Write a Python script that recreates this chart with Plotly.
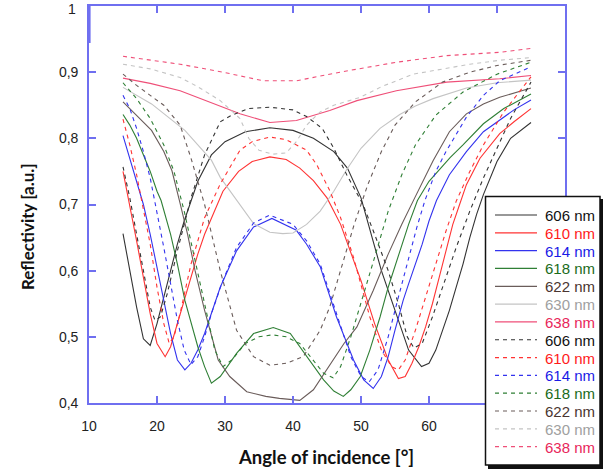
import plotly.graph_objects as go

# ---------------- data ----------------
wavelength_labels = ["606 nm", "610 nm", "614 nm", "618 nm", "622 nm", "630 nm", "638 nm"]

s606_x = [15,16,17,18,19,20,21,22,23,24,25,26,28,30,33,36.6,40,43,46,48,50,51.5,53,55,57,58.9,60,61,62,63,64,65,66,67,68,70,72,75]
s606_y = [.656,.60,.545,.497,.487,.52,.56,.60,.64,.675,.705,.735,.775,.795,.81,.816,.812,.80,.78,.755,.71,.655,.60,.54,.48,.455,.46,.48,.51,.54,.575,.61,.65,.685,.715,.765,.80,.824]

s610_x = [15,16,17,18,19,20,21.2,22,23,24,25,26,27,28,29.7,32,34,36.6,39,41,43,45,47,48.9,50,52,54,55.5,56.5,57.5,58.5,59.5,60.5,61.5,62.5,63.5,64.5,65.5,67.5,70.4,72.5,75]
s610_y = [.75,.70,.645,.59,.535,.49,.47,.485,.52,.555,.59,.625,.655,.68,.72,.75,.765,.772,.768,.755,.736,.71,.67,.616,.585,.52,.465,.437,.44,.46,.485,.515,.55,.59,.63,.67,.70,.73,.77,.807,.825,.845]

s614_x = [15,16,17,18,19,20,21,22,23,24.1,25,26,27,28,29.3,31.7,34.2,36.9,40.5,42,44,46.4,48.9,50.4,51.8,53,54,55,56.2,57,58,59,60,61.1,63,65.5,68,70.4,72.5,75]
s614_y = [.804,.77,.735,.70,.655,.605,.555,.505,.465,.45,.46,.48,.505,.535,.575,.63,.666,.679,.661,.64,.606,.53,.465,.435,.422,.44,.47,.51,.555,.58,.61,.64,.675,.706,.745,.78,.81,.827,.843,.858]

s618_x = [15,16,17,18,19,20,20.6,22,23,24.1,25,26,27,28,29.3,31.7,34.2,37.1,39.6,42,44.5,46,47.4,48.5,49.9,51.3,52.8,54,55.7,57,58.3,60,63.1,65,68,71,75]
s618_y = [.836,.82,.80,.775,.75,.72,.706,.655,.61,.555,.52,.485,.455,.43,.44,.475,.505,.514,.505,.47,.435,.418,.41,.42,.44,.48,.53,.575,.63,.67,.706,.735,.771,.79,.822,.845,.867]

s622_x = [15,17,19.2,21,22.2,23.3,24.5,25.6,27,29,30.7,33.2,36,38,40,41,43,45.9,47.5,49.4,51.8,54,56,57.9,60.6,63,65.5,68,70.4,75]
s622_y = [.855,.835,.812,.78,.751,.706,.655,.60,.54,.465,.44,.417,.41,.407,.405,.404,.42,.465,.49,.515,.57,.625,.67,.71,.766,.81,.837,.852,.862,.876]

s630_x = [15,19.2,24.1,28,29.3,31.7,34.2,36.6,38.5,40,42,44,46,47.9,50,52.8,55.7,58,60.6,65.5,70,75]
s630_y = [.877,.852,.812,.767,.741,.706,.671,.658,.656,.657,.67,.69,.72,.753,.785,.815,.836,.849,.86,.876,.884,.888]

s638_x = [15,19,23.4,28.3,32.2,36.6,40.5,45.4,49.4,55.2,62.6,70.4,75]
s638_y = [.891,.883,.872,.852,.837,.824,.827,.842,.857,.872,.885,.890,.895]

d606_x = [15,16,17,18,19,19.7,20.5,21.5,23,25,27,29.3,31,33.5,36.6,40,42,44.3,46,47.9,50.3,52,54,55.5,56.8,57.8,59,60.5,62,64,66,68,70,72,75]
d606_y = [.757,.71,.655,.60,.545,.525,.53,.565,.63,.71,.775,.825,.835,.845,.847,.843,.833,.815,.785,.745,.70,.655,.60,.55,.50,.483,.49,.53,.575,.635,.69,.74,.785,.83,.885]

d610_x = [15,16,17,18,19,20,21,21.8,22.5,23.5,25,27,29.3,32.2,34,36.6,39,42,43.5,45.4,47,48.9,51.3,53,54.5,55.5,56.5,58,59.5,61,62.5,64,66,68,71,75]
d610_y = [.829,.79,.745,.695,.64,.575,.52,.49,.50,.54,.61,.68,.731,.782,.795,.802,.798,.782,.76,.721,.68,.62,.53,.48,.455,.45,.465,.51,.56,.61,.66,.705,.75,.79,.84,.893]

d614_x = [15,16,17,18,19,20,21,22,23,24,25,26,27,28,29.5,31.7,34.2,36.6,40,42,44,46.4,48.5,50,51.2,52.5,54,55.5,57,58.2,59.4,61,62.5,65.5,68,70.4,75]
d614_y = [.865,.845,.815,.78,.74,.69,.635,.58,.525,.48,.458,.47,.50,.535,.58,.635,.672,.684,.67,.645,.61,.535,.47,.44,.432,.45,.50,.56,.62,.665,.706,.75,.78,.832,.865,.887,.908]

d618_x = [15,17,19,21,22.5,24,25.5,27,28.5,29.7,31,33,35,37,39,41,43,44.5,45.9,47,48.5,50,52,54,56,58,61,65,70,75]
d618_y = [.884,.86,.83,.79,.75,.69,.62,.55,.48,.455,.465,.49,.50,.503,.50,.49,.465,.445,.438,.455,.50,.55,.62,.69,.745,.79,.835,.87,.897,.915]

d622_x = [15,17,19,21,23.4,25,27,29.3,31.7,34.2,36.6,39,41.5,44,45.4,47,49,51,53,55,58,62,66,70,75]
d622_y = [.897,.88,.865,.85,.82,.77,.70,.60,.51,.47,.457,.46,.47,.51,.545,.60,.67,.73,.78,.82,.855,.885,.90,.91,.918]

d630_x = [15,19,23.4,26,29.3,32.2,33.5,35,37,39,40.5,42,44,46,49.9,53,57.7,62,66,70.4,75]
d630_y = [.912,.905,.892,.878,.857,.83,.80,.782,.776,.778,.795,.82,.84,.85,.862,.878,.897,.905,.912,.918,.922]

d638_x = [15,23.4,29.7,35.6,40.5,46.9,55.2,62.6,70.4,75]
d638_y = [.924,.912,.90,.887,.887,.90,.915,.925,.930,.936]

x_ticks = [10, 20, 30, 40, 50, 60, 70, 80]
x_tick_text = ["10", "20", "30", "40", "50", "60", "", ""]   # 70 and 80 sit under the legend box
y_ticks = [0.4, 0.5, 0.6, 0.7, 0.8, 0.9, 1.0]
y_tick_text = ["0,4", "0,5", "0,6", "0,7", "0,8", "0,9", ""]  # "1" is drawn as a label annotation
top_label = "1"

# ---------------- style ----------------
line_colors = ["#333333", "#ff3333", "#3333ee", "#2f7f35", "#6a5c5a", "#c4c4c4", "#ef4f78"]
text_colors = ["#111111", "#ff1a1a", "#1a1ae6", "#1a6b1a", "#4a3530", "#a0a0a0", "#e8265a"]
AXIS_BLUE = "#6f6ff0"
DASH = "4px,4px"

solid = [(s606_x, s606_y), (s610_x, s610_y), (s614_x, s614_y), (s618_x, s618_y),
         (s622_x, s622_y), (s630_x, s630_y), (s638_x, s638_y)]
dashed = [(d606_x, d606_y), (d610_x, d610_y), (d614_x, d614_y), (d618_x, d618_y),
          (d622_x, d622_y), (d630_x, d630_y), (d638_x, d638_y)]

fig = go.Figure()
for i, (xs, ys) in enumerate(solid):
    fig.add_trace(go.Scatter(x=xs, y=ys, mode="lines", name=wavelength_labels[i],
                             line=dict(color=line_colors[i], width=1.1), showlegend=False))
for i, (xs, ys) in enumerate(dashed):
    fig.add_trace(go.Scatter(x=xs, y=ys, mode="lines", name=wavelength_labels[i],
                             line=dict(color=line_colors[i], width=1.1, dash=DASH), showlegend=False))

W, H = 603, 472
ML, MR, MT, MB = 89, 38, 6, 69
PW, PH = W - ML - MR, H - MT - MB

def px(xp):
    return (xp - ML) / PW

def py(yp):
    return (H - MB - yp) / PH

shapes = []
annotations = []

# thicker upper part of the left frame, as in the original
shapes.append(dict(type="line", xref="paper", yref="paper", x0=px(89), x1=px(89), y0=py(43), y1=1,
                   line=dict(color=AXIS_BLUE, width=3.2), layer="above"))

# legend box with shadow
shapes.append(dict(type="rect", xref="paper", yref="paper", x0=px(488), x1=px(604), y0=py(469), y1=py(199),
                   fillcolor="#111111", line=dict(width=0), layer="above"))
shapes.append(dict(type="rect", xref="paper", yref="paper", x0=px(485.5), x1=px(600), y0=py(465), y1=py(196.5),
                   fillcolor="white", line=dict(color="#111111", width=1.5), layer="above"))

legend_entries = [(i, None) for i in range(7)] + [(i, DASH) for i in range(7)]
for k, (i, dash) in enumerate(legend_entries):
    yc = 215 + k * 17.82
    ln = dict(color=line_colors[i], width=1.2)
    if dash:
        ln["dash"] = dash
    shapes.append(dict(type="line", xref="paper", yref="paper", x0=px(495), x1=px(537), y0=py(yc), y1=py(yc),
                       line=ln, layer="above"))
    annotations.append(dict(xref="paper", yref="paper", x=px(544), y=py(yc), xanchor="left", yanchor="middle",
                            text=wavelength_labels[i], showarrow=False, height=16, borderpad=0,
                            font=dict(family="Liberation Sans, Arial", size=15, color=text_colors[i])))

annotations.append(dict(xref="paper", yref="paper", x=px(77), y=1.0 + MT / PH, xanchor="right", yanchor="top",
                        text=top_label, showarrow=False, borderpad=0,
                        font=dict(family="Liberation Sans, Arial", size=14, color="#222222")))
annotations.append(dict(xref="paper", yref="paper", x=px(326), y=py(457), xanchor="center", yanchor="middle",
                        text="<b>Angle of incidence [°]</b>", showarrow=False,
                        font=dict(family="Lato, Liberation Sans", size=18.5, color="#111111")))
annotations.append(dict(xref="paper", yref="paper", x=px(27), y=py(226), xanchor="center", yanchor="middle",
                        text="<b>Reflectivity [a.u.]</b>", showarrow=False, textangle=-90,
                        font=dict(family="Lato, Liberation Sans", size=17, color="#111111")))

axis_common = dict(showline=True, linecolor=AXIS_BLUE, linewidth=1.6, mirror="ticks",
                   ticks="inside", ticklen=7, tickwidth=1.6, tickcolor=AXIS_BLUE,
                   showgrid=False, zeroline=False, ticklabeloverflow="allow",
                   tickfont=dict(family="Liberation Sans, Arial", size=14, color="#222222"))

fig.update_layout(
    width=W, height=H,
    margin=dict(l=ML, r=MR, t=MT, b=MB, autoexpand=False),
    paper_bgcolor="white", plot_bgcolor="white",
    showlegend=False,
    xaxis=dict(range=[10, 80], tickvals=x_ticks, ticktext=x_tick_text, ticklabelstandoff=9, **axis_common),
    yaxis=dict(range=[0.4, 1.0], tickvals=y_ticks, ticktext=y_tick_text, ticklabelstandoff=6, **axis_common),
    shapes=shapes,
    annotations=annotations,
)

fig.write_html("out.html", config={"displayModeBar": False})

# remove the browser's default page margin so the figure sits at the window's top-left corner
with open("out.html", "r", encoding="utf-8") as f:
    html = f.read()
html = html.replace("<head>", "<head><style>html,body{margin:0;padding:0;overflow:hidden;}</style>", 1)
with open("out.html", "w", encoding="utf-8") as f:
    f.write(html)
